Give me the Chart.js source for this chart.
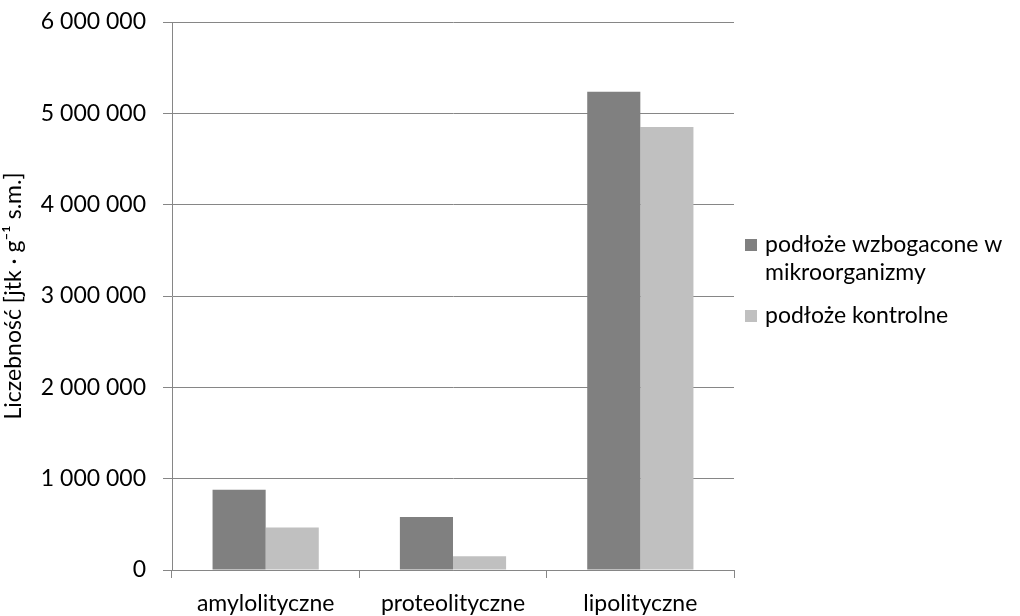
<!DOCTYPE html>
<html>
<head>
<meta charset="utf-8">
<script src="https://cdn.jsdelivr.net/npm/chart.js@4.4.0/dist/chart.umd.min.js"></script>
<style>
  html, body { margin: 0; padding: 0; background: #fff; }
  #wrap { width: 1020px; height: 616px; }
</style>
</head>
<body>
<div id="wrap"><canvas id="myChart" width="1020" height="616"></canvas></div>
<script>
const categories = ['amylolityczne', 'proteolityczne', 'lipolityczne'];
const seriesNames = ['podłoże wzbogacone w mikroorganizmy', 'podłoże kontrolne'];
const enrichedValues = [880000, 580000, 5235000];
const controlValues = [465000, 150000, 4850000];
const yTicks = [0, 1000000, 2000000, 3000000, 4000000, 5000000, 6000000];
const seriesColors = ['#808080', '#c0c0c0'];

const FONT = 'Lato, "Open Sans", sans-serif';

const fmt = (v) => v.toString().replace(/\B(?=(\d{3})+(?!\d))/g, ' ');

// legend drawn on the right, with the first label wrapped like the original
const sideLegend = {
  id: 'sideLegend',
  afterDraw(chart) {
    const { ctx, chartArea } = chart;
    const x = chartArea.right + 11;
    const lines = [
      ['podłoże wzbogacone w', 'mikroorganizmy'],
      ['podłoże kontrolne'],
    ];
    let y = 245;
    ctx.save();
    ctx.font = '23px ' + FONT;
    ctx.textBaseline = 'middle';
    lines.forEach((item, i) => {
      ctx.fillStyle = seriesColors[i];
      ctx.fillRect(x, y - 6, 12, 12);
      ctx.fillStyle = '#000';
      item.forEach((t, j) => {
        ctx.fillText(t, x + 20, y + j * 28);
      });
      y += item.length * 28 + 15;
    });
    ctx.restore();
  },
};

const chart = new Chart(document.getElementById('myChart').getContext('2d'), {
  type: 'bar',
  data: {
    labels: categories,
    datasets: [
      { label: seriesNames[0], data: enrichedValues, backgroundColor: seriesColors[0] },
      { label: seriesNames[1], data: controlValues, backgroundColor: seriesColors[1] },
    ],
  },
  options: {
    animation: false,
    responsive: false,
    layout: { padding: { left: 0, right: 286, top: 22, bottom: 0 } },
    datasets: { bar: { categoryPercentage: 0.567, barPercentage: 1 } },
    plugins: {
      legend: { display: false },
      tooltip: { enabled: false },
    },
    scales: {
      x: {
        grid: { drawOnChartArea: false, drawTicks: true, tickLength: 8, color: '#868686', offset: true },
        border: { color: '#868686', width: 1 },
        ticks: { color: '#000', font: { family: FONT, size: 23 }, padding: 12 },
        afterFit: (s) => { s.height = 46; },
      },
      y: {
        min: 0,
        max: 6000000,
        afterBuildTicks: (s) => { s.ticks = yTicks.map((v) => ({ value: v })); },
        grid: { color: '#868686', tickLength: 9 },
        border: { color: '#868686', width: 1 },
        ticks: {
          color: '#000',
          font: { family: FONT, size: 23 },
          padding: 17,
          callback: (v) => fmt(v),
        },
        title: {
          display: true,
          text: 'Liczebność [jtk · g⁻¹ s.m.]',
          color: '#000',
          font: { family: FONT, size: 23 },
          padding: { top: 0, bottom: 4 },
        },
        afterFit: (s) => {
          s.width = 172;
          s.paddingTop = 0;
          s.paddingBottom = 0;
        },
      },
    },
  },
  plugins: [sideLegend],
});
</script>
</body>
</html>
